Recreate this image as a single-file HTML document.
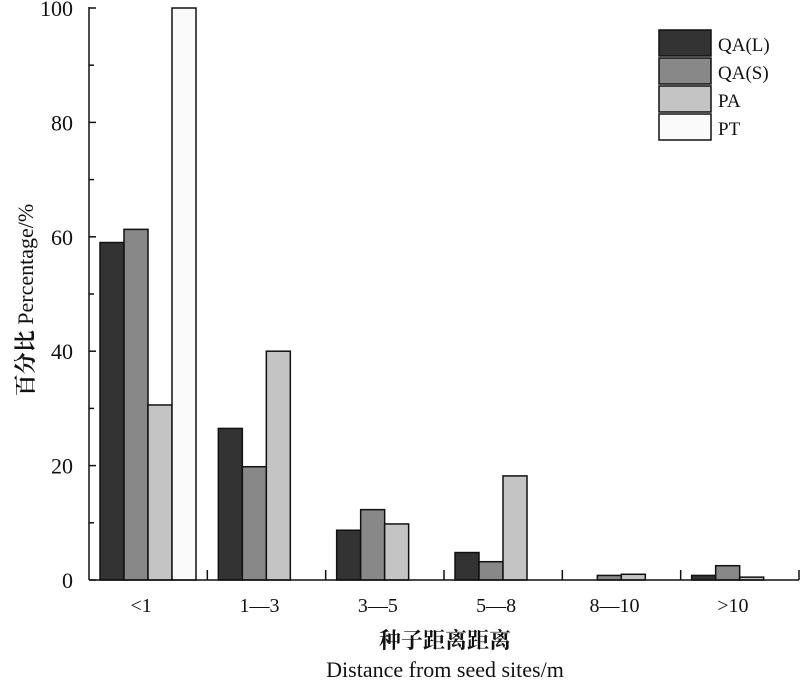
<!DOCTYPE html>
<html><head><meta charset="utf-8"><style>
body{margin:0;background:#fff}
svg text{font-family:"Liberation Serif","Noto Serif CJK SC",serif;fill:#111}
</style></head><body>
<svg id="c" width="800" height="686" xmlns="http://www.w3.org/2000/svg"></svg>
<script>
const categories=["<1","1—3","3—5","5—8","8—10",">10"];
const seriesNames=["QA(L)","QA(S)","PA","PT"];
const qaL=[59,26.5,8.7,4.8,0,0.8];
const qaS=[61.3,19.8,12.3,3.2,0.8,2.5];
const pa=[30.6,40,9.8,18.2,1,0.5];
const pt=[100,0,0,0,0,0];
const yTicks=[0,20,40,60,80,100];
const series=[qaL,qaS,pa,pt];
const colors=["#333333","#888888","#c4c4c4","#fafafa"];
const svg=document.getElementById('c');
const NS="http://www.w3.org/2000/svg";
const x0=89,x1=799,y0=580,yTop=8,gw=(x1-x0)/categories.length,bw=24;
const y=v=>y0-(v/100)*(y0-yTop);
function mk(t,a,p){const e=document.createElementNS(NS,t);for(const k in a)e.setAttribute(k,a[k]);(p||svg).appendChild(e);return e;}
// bars
series.forEach((s,si)=>s.forEach((v,ci)=>{
 if(v<=0)return;
 const r=mk('rect',{x:x0+ci*gw+11+si*bw,y:y(v),width:bw,height:y0-y(v),fill:colors[si],stroke:'#111','stroke-width':1.5});
 
 
}));
// axes
const ya=mk('line',{x1:x0,y1:y0,x2:x0,y2:yTop-1,stroke:'#111','stroke-width':1.5});

const xa=mk('line',{x1:x0,y1:y0,x2:x1,y2:y0,stroke:'#111','stroke-width':1.5});

yTicks.forEach(t=>{
 mk('line',{x1:x0,y1:y(t),x2:x0+7,y2:y(t),stroke:'#111','stroke-width':1.5});
 if(t<100)mk('line',{x1:x0,y1:y(t+10),x2:x0+5,y2:y(t+10),stroke:'#111','stroke-width':1.5});
 const tx=mk('text',{x:x0-16,y:y(t)+8,'text-anchor':'end','font-size':22});
 tx.textContent=t;
 
});
categories.forEach((c,i)=>{
 mk('line',{x1:x0+(i+1)*gw,y1:y0,x2:x0+(i+1)*gw,y2:y0-10,stroke:'#111','stroke-width':1.5});
 const tx=mk('text',{x:x0+i*gw+gw/2-7,y:612,'text-anchor':'middle','font-size':20});
 tx.textContent=c;
 
});
// legend
seriesNames.forEach((n,i)=>{
 const r=mk('rect',{x:659,y:30+i*28,width:52,height:26,fill:colors[i],stroke:'#111','stroke-width':1.5});
 
 const t=mk('text',{x:718,y:51+i*28,'font-size':19});
 t.textContent=n;
 
});
const xt1=mk('text',{x:445,y:648,'text-anchor':'middle','font-size':22,'font-weight':'bold'});
xt1.textContent='种子距离距离';

const xt2=mk('text',{x:445,y:677,'text-anchor':'middle','font-size':22});
xt2.textContent='Distance from seed sites/m';

const yt=mk('text',{x:0,y:0,'text-anchor':'middle','font-size':22,transform:'translate(33,300) rotate(-90)'});
yt.innerHTML='<tspan font-weight="bold">百分比</tspan> Percentage/%';

</script>
</body></html>
